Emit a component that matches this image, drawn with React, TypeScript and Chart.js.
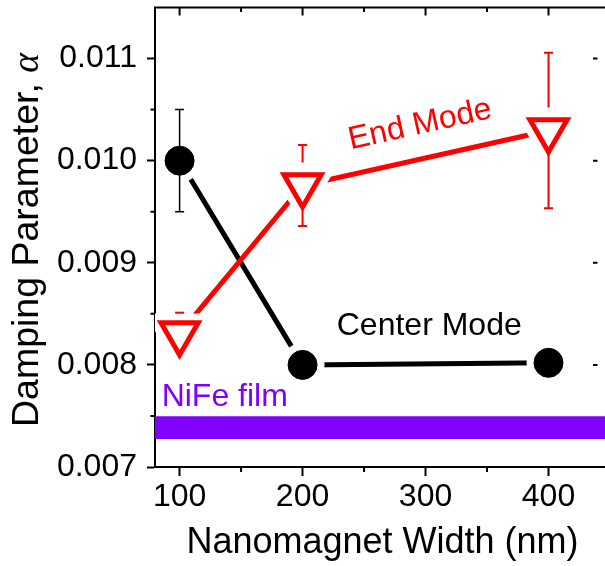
import React, { useEffect, useRef } from 'react';
import { Chart, registerables } from 'chart.js';
Chart.register(...registerables);

// ---- data ----
const widths = [100, 200, 400];
const centerAlpha = [0.01, 0.008, 0.00802];
const centerErr = [0.0005, 0.00008, 0.00008];
const endAlpha = [0.008307, 0.009757, 0.010295];
const endErr = [0.000204, 0.000397, 0.000762];
const nifeX = [80, 450];
const nifeAlpha = [0.007386, 0.007386];
const xTicks = [100, 200, 300, 400];
const xMinor = [150, 250, 350];
const yTicks = [0.007, 0.008, 0.009, 0.01, 0.011];
const yMinor = [0.0075, 0.0085, 0.0095, 0.0105];

const FONT = "'Liberation Sans', Arial, sans-serif";
const RED = '#ff0000';
const PURPLE = '#8000ff';

const pts = (xs: number[], ys: number[]) => xs.map((x, i) => ({ x, y: ys[i] }));

function drawErr(
  chart: any,
  xs: number[],
  ys: number[],
  errs: number[],
  color: string,
  width: number,
  gapUp: number,
  hideBelow: number
) {
  const { ctx } = chart;
  const sx = chart.scales.x;
  const sy = chart.scales.y;
  ctx.save();
  ctx.strokeStyle = color;
  ctx.lineWidth = width;
  const cap = 4.5;
  for (let i = 0; i < xs.length; i++) {
    const px = sx.getPixelForValue(xs[i]);
    const pc = sy.getPixelForValue(ys[i]);
    const pt = sy.getPixelForValue(ys[i] + errs[i]);
    const pb = sy.getPixelForValue(ys[i] - errs[i]);
    ctx.beginPath();
    const upEnd = pc - gapUp;
    if (upEnd > pt) {
      ctx.moveTo(px, pt);
      ctx.lineTo(px, upEnd);
    }
    ctx.moveTo(px - cap, pt);
    ctx.lineTo(px + cap, pt);
    if (pb - pc > hideBelow) {
      ctx.moveTo(px, pc);
      ctx.lineTo(px, pb);
      ctx.moveTo(px - cap, pb);
      ctx.lineTo(px + cap, pb);
    }
    ctx.stroke();
  }
  ctx.restore();
}

const decor = {
  id: 'decor',
  beforeDatasetDraw(chart: any, args: any) {
    const ds = chart.data.datasets[args.index];
    if (ds.label === 'Center Mode') drawErr(chart, widths, centerAlpha, centerErr, '#000', 1.5, 0, 0);
    if (ds.label === 'End Mode') drawErr(chart, widths, endAlpha, endErr, RED, 2, 23, 24);
  },
  afterDatasetsDraw(chart: any) {
    const { ctx, chartArea } = chart;
    const sx = chart.scales.x;
    const sy = chart.scales.y;
    const { left, right, top, bottom } = chartArea;
    ctx.save();
    ctx.strokeStyle = '#000';
    ctx.lineWidth = 2;
    ctx.beginPath();
    // top frame
    ctx.moveTo(left - 1, top);
    ctx.lineTo(right, top);
    // top ticks (inward)
    xTicks.forEach((v) => {
      const p = sx.getPixelForValue(v);
      ctx.moveTo(p, top);
      ctx.lineTo(p, top + 8);
    });
    xMinor.forEach((v) => {
      const p = sx.getPixelForValue(v);
      ctx.moveTo(p, top);
      ctx.lineTo(p, top + 4.5);
      ctx.moveTo(p, bottom);
      ctx.lineTo(p, bottom + 5);
    });
    yMinor.forEach((v) => {
      const p = sy.getPixelForValue(v);
      ctx.moveTo(left - 4.5, p);
      ctx.lineTo(left, p);
    });
    yTicks.forEach((v) => {
      const p = sy.getPixelForValue(v);
      ctx.moveTo(right - 17, p);
      ctx.lineTo(right - 12.5, p);
    });
    ctx.stroke();

    // annotations
    ctx.textBaseline = 'middle';
    ctx.save();
    ctx.translate(sx.getPixelForValue(295.5), sy.getPixelForValue(0.01035));
    ctx.rotate((-12.5 * Math.PI) / 180);
    ctx.fillStyle = RED;
    ctx.font = `32px ${FONT}`;
    ctx.textAlign = 'center';
    ctx.fillText('End Mode', 0, 0);
    ctx.restore();

    ctx.fillStyle = '#000';
    ctx.font = `32px ${FONT}`;
    ctx.textAlign = 'center';
    ctx.fillText('Center Mode', sx.getPixelForValue(303), sy.getPixelForValue(0.008381));

    ctx.fillStyle = PURPLE;
    ctx.font = `32px ${FONT}`;
    ctx.textAlign = 'left';
    ctx.fillText('NiFe film', sx.getPixelForValue(85.4), sy.getPixelForValue(0.007688));

    // y-axis title
    ctx.save();
    ctx.translate(38.3, 240);
    ctx.rotate(-Math.PI / 2);
    ctx.textBaseline = 'alphabetic';
    ctx.textAlign = 'left';
    const f1 = `37.5px ${FONT}`;
    const f2 = `italic 37.5px 'Liberation Serif', 'Times New Roman', serif`;
    const t1 = 'Damping Parameter, ';
    const t2 = 'α';
    ctx.font = f1;
    const w1 = ctx.measureText(t1).width;
    ctx.font = f2;
    const w2 = ctx.measureText(t2).width;
    const start = -(w1 + w2) / 2;
    ctx.fillStyle = '#000';
    ctx.font = f1;
    ctx.fillText(t1, start, 0);
    ctx.font = f2;
    ctx.fillText(t2, start + w1, 0);
    ctx.restore();

    ctx.restore();
  },
};

const noPad = (s: any) => {
  s.paddingTop = 0;
  s.paddingBottom = 0;
  s.paddingLeft = 0;
  s.paddingRight = 0;
};

export default function App() {
  const ref = useRef<HTMLCanvasElement>(null);
  useEffect(() => {
    const canvas = ref.current!;
    const chart = new Chart(canvas, {
      type: 'line',
      data: {
        datasets: [
          {
            label: 'Center Mode',
            data: pts(widths, centerAlpha),
            showLine: false,
            pointStyle: 'circle',
            pointRadius: 14.5,
            pointBackgroundColor: '#000',
            pointBorderColor: '#000',
            pointBorderWidth: 1,
            order: 0,
          },
          {
            label: 'center-halo',
            data: pts(widths, centerAlpha),
            showLine: false,
            pointStyle: 'circle',
            pointRadius: 21.5,
            pointBackgroundColor: '#fff',
            pointBorderColor: '#fff',
            pointBorderWidth: 1,
            order: 1,
          },
          {
            label: 'End Mode',
            data: pts(widths, endAlpha),
            showLine: false,
            pointStyle: 'triangle',
            pointRotation: 180,
            pointRadius: 21.5,
            pointBackgroundColor: '#fff',
            pointBorderColor: RED,
            pointBorderWidth: 5,
            order: 2,
          } as any,
          {
            label: 'end-halo',
            data: pts(widths, endAlpha),
            showLine: false,
            pointStyle: 'triangle',
            pointRotation: 180,
            pointRadius: 35,
            pointBackgroundColor: '#fff',
            pointBorderColor: '#fff',
            pointBorderWidth: 5,
            order: 3,
          } as any,
          {
            label: 'end-line',
            data: pts(widths, endAlpha),
            borderColor: RED,
            borderWidth: 5,
            pointRadius: 0,
            borderCapStyle: 'butt',
            order: 4,
          },
          {
            label: 'center-line',
            data: pts(widths, centerAlpha),
            borderColor: '#000',
            borderWidth: 5,
            pointRadius: 0,
            borderCapStyle: 'butt',
            order: 5,
          },
          {
            label: 'NiFe film',
            data: pts(nifeX, nifeAlpha),
            borderColor: PURPLE,
            borderWidth: 22.6,
            pointRadius: 0,
            borderCapStyle: 'butt',
            clip: 0,
            order: 6,
          },
        ],
      },
      options: {
        animation: false,
        responsive: false,
        devicePixelRatio: 1,
        events: [],
        layout: { autoPadding: false, padding: { left: 0, top: 7.5, right: 5, bottom: 0 } },
        plugins: { legend: { display: false }, tooltip: { enabled: false } },
        scales: {
          x: {
            type: 'linear',
            min: 80,
            max: 450,
            afterBuildTicks: (s: any) => {
              s.ticks = xTicks.map((v) => ({ value: v }));
            },
            afterFit: (s: any) => {
              s.height = 99;
              noPad(s);
            },
            ticks: {
              color: '#000',
              font: { family: FONT, size: 32 },
              padding: 2,
              maxRotation: 0,
              callback: (v: any) => String(v),
            },
            grid: {
              display: true,
              drawOnChartArea: false,
              drawTicks: true,
              tickLength: 9,
              tickWidth: 2,
              tickColor: '#000',
            },
            border: { display: true, color: '#000', width: 2 },
            title: {
              display: true,
              text: 'Nanomagnet Width (nm)',
              color: '#000',
              font: { family: FONT, size: 36 },
              padding: { top: 0, bottom: 1 },
            },
          },
          y: {
            type: 'linear',
            min: 0.007,
            max: 0.0115,
            afterBuildTicks: (s: any) => {
              s.ticks = yTicks.map((v) => ({ value: v }));
            },
            afterFit: (s: any) => {
              s.width = 155;
              noPad(s);
            },
            ticks: {
              color: '#000',
              font: { family: FONT, size: 32 },
              padding: 10,
              callback: (v: any) => Number(v).toFixed(3),
            },
            grid: {
              display: true,
              drawOnChartArea: false,
              drawTicks: true,
              tickLength: 8,
              tickWidth: 2,
              tickColor: '#000',
            },
            border: { display: true, color: '#000', width: 2 },
          },
        },
      },
      plugins: [decor],
    });
    return () => chart.destroy();
  }, []);
  return (
    <div
      style={{
        position: 'fixed',
        left: 0,
        top: 0,
        width: 605,
        height: 566,
        overflow: 'hidden',
        background: '#fff',
      }}
    >
      <canvas
        ref={ref}
        width={615}
        height={566}
        style={{ position: 'absolute', left: 0, top: 0, width: 615, height: 566 }}
      />
    </div>
  );
}
